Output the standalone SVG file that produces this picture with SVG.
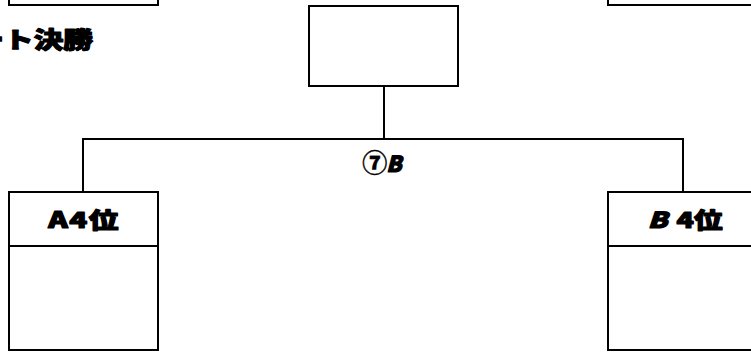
<svg xmlns="http://www.w3.org/2000/svg" width="751" height="352" viewBox="0 0 751 352">
<style>
.box{fill:#fff;stroke:#000;stroke-width:2}
.ln{fill:none;stroke:#000;stroke-width:2}
.t{font-family:"Noto Sans CJK JP","Liberation Sans",sans-serif;font-weight:900;fill:#000;stroke:#000;stroke-width:1.1;stroke-linejoin:round}
</style>
<rect width="751" height="352" fill="#fff"/>
<g id="connectors">
<path class="ln" d="M384,86 V139"/>
<path class="ln" d="M83,192 V139 H683 V192"/>
</g>
<g id="node-top-left">
<rect class="box" x="9" y="-150" width="149" height="155"/>
</g>
<g id="node-top-right">
<rect class="box" x="608" y="-150" width="150" height="155"/>
</g>
<g id="title">
<text class="t" transform="translate(93,48) scale(1.32,1)" x="0" y="0" font-size="22.5" text-anchor="end">ート決勝</text>
</g>
<g id="node-final">
<rect class="box" x="309" y="6" width="149" height="80"/>
</g>
<g id="match-label">
<text class="t" transform="translate(382,172)" font-size="22" text-anchor="middle" stroke-width="0.6"><tspan font-size="25" stroke-width="0.4">⑦</tspan><tspan font-style="italic" dx="-1">B</tspan></text>
</g>
<g id="node-a4">
<rect class="box" x="9" y="192" width="149" height="158"/>
<path class="ln" d="M9,246 H158"/>
<text class="t" transform="translate(84,228) scale(1.35,1)" font-size="22" text-anchor="middle" letter-spacing="1">A4位</text>
</g>
<g id="node-b4">
<rect class="box" x="608" y="192" width="150" height="158"/>
<path class="ln" d="M608,246 H758"/>
<text class="t" transform="translate(685,228) scale(1.3,1)" font-size="22" text-anchor="middle"><tspan font-style="italic">B</tspan><tspan dx="7">4位</tspan></text>
</g>
</svg>
